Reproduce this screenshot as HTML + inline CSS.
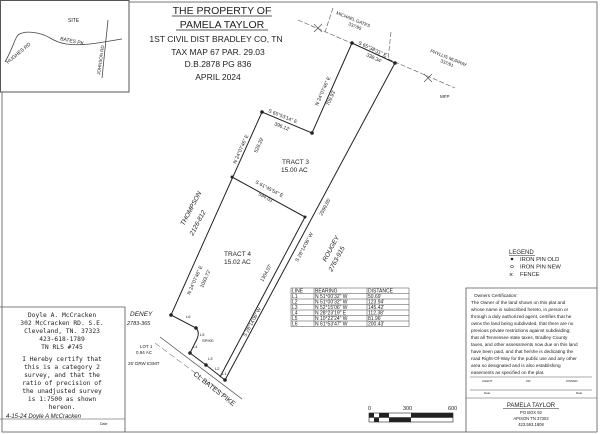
<!DOCTYPE html>
<html><head><meta charset="utf-8"><style>
html,body{margin:0;padding:0;background:#fff}
svg{display:block}
text{font-family:"Liberation Sans",sans-serif;fill:#222}
.h{font-family:"DejaVu Sans Mono","Liberation Mono",monospace}
</style></head><body>
<svg width="600" height="434" viewBox="0 0 600 434" xmlns="http://www.w3.org/2000/svg">
<rect x="0" y="0" width="600" height="434" fill="#fff"/>
<path d="M129 2 H597 V432 M2 92 V432 H597" fill="none" stroke="#777" stroke-width="1"/>
<rect x="0.5" y="0.5" width="128.5" height="91.5" fill="none" stroke="#555" stroke-width="1"/>
<path d="M5 62 C12 50,15 38,18 35 C25 30,40 32,50 38 C60 44,70 46,90 44 C105 42,115 40,122 39" fill="none" stroke="#444" stroke-width="0.8"/>
<path d="M108 20 L102 78" stroke="#444" stroke-width="0.8"/>
<text x="68" y="22" font-size="5">SITE</text>
<text x="60" y="40" font-size="5" transform="rotate(12 60 40)">BATES PK</text>
<text x="8" y="64" font-size="5" transform="rotate(-40 8 64)">HUGHES RD</text>
<text x="100" y="75" font-size="4.5" transform="rotate(-82 100 75)">JOHNSON RD</text>
<g text-anchor="middle">
<text x="222" y="14" font-size="10.5">THE  PROPERTY OF</text>
<line x1="172" y1="16" x2="272" y2="16" stroke="#222" stroke-width="0.8"/>
<text x="222" y="28" font-size="10.5">PAMELA TAYLOR</text>
<line x1="176" y1="30" x2="268" y2="30" stroke="#222" stroke-width="0.8"/>
<text x="216" y="42" font-size="8.5">1ST CIVIL DIST BRADLEY CO, TN</text>
<text x="218" y="55" font-size="8.5">TAX MAP 67 PAR. 29.03</text>
<text x="218" y="67" font-size="8.5">D.B.2878 PG 836</text>
<text x="218" y="80" font-size="8.5">APRIL 2024</text>
</g>
<line x1="298" y1="20" x2="455" y2="88" stroke="#555" stroke-width="0.6" stroke-dasharray="5,2"/>
<line x1="333" y1="8" x2="325" y2="32" stroke="#555" stroke-width="0.6" stroke-dasharray="5,2"/>
<line x1="391" y1="32" x2="388" y2="60" stroke="#555" stroke-width="0.6" stroke-dasharray="5,2"/>
<g stroke="#444" stroke-width="0.6"><path d="M314 24 L322 32 M322 24 L314 32"/><path d="M424 74 L432 82 M432 74 L424 82"/></g>
<text x="336" y="14" font-size="4.5" transform="rotate(22 336 14)">MICHAEL GATES</text>
<text x="348" y="25" font-size="4.5" transform="rotate(22 348 25)">337/95</text>
<text x="430" y="52" font-size="4.5" transform="rotate(22 430 52)">PHYLLIS MURRAY</text>
<text x="440" y="62" font-size="4.5" transform="rotate(22 440 62)">337/91</text>
<text x="440" y="98" font-size="4.5">MFP</text>
<g stroke="#222" stroke-width="1" fill="none">
<path d="M352 43 L395 63 L225 380"/>
<path d="M305 217 L220 377"/>
<path d="M352 43 L312 133 L262 112 L171 315 L196 328 Q200 332 197 339 L190 353 L206 365 L225 380"/>
<path d="M232 177 L305 217"/>
</g>
<line x1="160" y1="337" x2="242" y2="399" stroke="#444" stroke-width="0.7"/>
<line x1="155" y1="343" x2="225" y2="395" stroke="#444" stroke-width="0.5" stroke-dasharray="6,3"/>
<g fill="#222"><circle cx="352" cy="43" r="1.8"/><circle cx="395" cy="63" r="1.8"/><circle cx="312" cy="133" r="1.8"/><circle cx="262" cy="112" r="1.8"/><circle cx="171" cy="315" r="1.8"/><circle cx="196" cy="328" r="1.8"/><circle cx="190" cy="353" r="1.8"/><circle cx="206" cy="365" r="1.8"/><circle cx="225" cy="380" r="1.8"/><circle cx="232" cy="177" r="1.5"/><circle cx="305" cy="217" r="1.5"/></g>
<g font-size="5">
<text x="358" y="44" transform="rotate(25 358 44)">S 65°38'31" E</text>
<text x="366" y="56" transform="rotate(25 366 56)">338.34'</text>
<text x="318" y="106" transform="rotate(-66 318 106)">N 24°07'46" E</text>
<text x="329" y="106" transform="rotate(-66 329 106)">709.93'</text>
<text x="268" y="112" transform="rotate(22 268 112)">S 65°53'14" E</text>
<text x="274" y="125" transform="rotate(22 274 125)">396.12'</text>
<text x="236" y="164" transform="rotate(-66 236 164)">N 24°07'46" E</text>
<text x="257" y="153" transform="rotate(-66 257 153)">528.29'</text>
<text x="255" y="183" transform="rotate(28 255 183)">S 61°45'54" E</text>
<text x="258" y="195" transform="rotate(28 258 195)">594.03'</text>
<text x="190" y="295" transform="rotate(-66 190 295)">N 24°07'46" E</text>
<text x="203" y="288" transform="rotate(-66 203 288)">1083.72'</text>
<text x="246" y="337" transform="rotate(-62 246 337)">S 28°14'06" W</text>
<text x="263" y="282" transform="rotate(-62 263 282)">1304.07'</text>
<text x="298" y="262" transform="rotate(-62 298 262)">S 28°14'06" W</text>
<text x="322" y="216" transform="rotate(-62 322 216)">2599.85'</text>
<text x="282" y="164" font-size="6.5">TRACT  3</text>
<text x="281" y="172" font-size="6.5">15.00  AC</text>
<text x="224" y="256" font-size="6.5">TRACT  4</text>
<text x="224" y="264" font-size="6.5">15.02  AC</text>
<text x="186" y="318" font-size="4">L6</text>
<text x="200" y="336" font-size="4">L5</text>
<text x="193" y="348" font-size="4">L4</text>
<text x="208" y="360" font-size="4">L3</text>
<text x="215" y="370" font-size="4">L2</text>
<text x="222" y="375" font-size="4">L1</text>
<text x="202" y="342" font-size="4">SPIKE</text>
<text x="140" y="348" font-size="4.5">LOT 1</text>
<text x="136" y="354" font-size="4.5">0.94 AC</text>
<text x="128" y="365" font-size="4.5">25' DRW ESMT</text>
<text x="193" y="375" font-size="7" transform="rotate(38 193 375)">CL BATES PIKE</text>
</g>
<g font-size="6.5" font-style="italic">
<text x="184" y="226" transform="rotate(-62 184 226)">THOMPSON</text>
<text x="193" y="236" transform="rotate(-62 193 236)">2126-812</text>
<text x="326" y="262" transform="rotate(-62 326 262)">ROUGEY</text>
<text x="332" y="272" transform="rotate(-62 332 272)">2763-915</text>
<text x="130" y="316">DENEY</text>
<text x="127" y="325" font-size="5.5">2783-365</text>
</g>
<path d="M0 307 H125 V432" fill="none" stroke="#555" stroke-width="0.8"/>
<line x1="0" y1="419" x2="125" y2="419" stroke="#444" stroke-width="0.6"/>
<g class="h" font-size="6.3" text-anchor="middle">
<text x="62" y="317" class="h">Doyle A. McCracken</text>
<text x="62" y="325" class="h">302 McCracken RD. S.E.</text>
<text x="62" y="333" class="h">Cleveland, TN. 37323</text>
<text x="62" y="341" class="h">423-618-1789</text>
<text x="62" y="349" class="h">TN RLS #745</text>
<text x="62" y="361" class="h">I Hereby certify that</text>
<text x="62" y="369" class="h">this is a category 2</text>
<text x="62" y="377" class="h">survey, and that the</text>
<text x="62" y="385" class="h">ratio of precision of</text>
<text x="62" y="393" class="h">the unadjusted survey</text>
<text x="62" y="401" class="h">is 1:7500 as shown</text>
<text x="62" y="409" class="h">hereon.</text>
</g>
<text x="6" y="418" font-size="6" font-style="italic">4-15-24  Doyle A McCracken</text>
<text x="100" y="425" font-size="3.5">Date</text>
<g stroke="#444" stroke-width="0.5" fill="none">
<rect x="291" y="288" width="118" height="38.5"/>
<line x1="314" y1="288" x2="314" y2="326.5"/><line x1="367" y1="288" x2="367" y2="326.5"/>
<path d="M291 293.5H409M291 299H409M291 304.5H409M291 310H409M291 315.5H409M291 321H409"/>
</g>
<g font-size="5">
<text x="292" y="292.5">LINE</text><text x="315" y="292.5">BEARING</text><text x="368" y="292.5">DISTANCE</text>
<text x="292" y="298">L1</text><text x="315" y="298">N  51°00'32"  W</text><text x="368" y="298">50.69'</text>
<text x="292" y="303.5">L2</text><text x="315" y="303.5">N  51°00'32"  W</text><text x="368" y="303.5">123.94'</text>
<text x="292" y="309">L3</text><text x="315" y="309">N  52°15'06"  W</text><text x="368" y="309">145.42'</text>
<text x="292" y="314.5">L4</text><text x="315" y="314.5">N  28°23'19"  E</text><text x="368" y="314.5">112.38'</text>
<text x="292" y="320">L5</text><text x="315" y="320">N  10°22'24"  W</text><text x="368" y="320">81.96'</text>
<text x="292" y="325.5">L6</text><text x="315" y="325.5">N  61°53'47"  W</text><text x="368" y="325.5">200.43'</text>
</g>
<text x="509" y="254" font-size="6">LEGEND</text>
<line x1="509" y1="255.5" x2="535" y2="255.5" stroke="#222" stroke-width="0.5"/>
<circle cx="512" cy="259" r="1.3" fill="#222"/>
<circle cx="512" cy="266.5" r="1.4" fill="none" stroke="#222" stroke-width="0.5"/>
<text x="509" y="277" font-size="7">×</text>
<g font-size="5.8"><text x="520" y="261">IRON PIN OLD</text><text x="520" y="268.5">IRON PIN NEW</text><text x="520" y="276">FENCE</text></g>
<path d="M466 432 V288 H597" fill="none" stroke="#555" stroke-width="0.8"/>
<line x1="470" y1="377" x2="592" y2="377" stroke="#555" stroke-width="0.5"/>
<line x1="470" y1="390" x2="592" y2="390" stroke="#555" stroke-width="0.5"/>
<line x1="466" y1="398" x2="597" y2="398" stroke="#555" stroke-width="0.6"/>
<g font-size="4.7">
<text x="474" y="297">Owners Certification:</text>
<text x="471" y="304">  The Owner of the land shown on this plat and</text>
<text x="471" y="311">whose name is subscribed hereto, in person or</text>
<text x="471" y="318">through a duly authorized agent, certifies that he</text>
<text x="471" y="325">owns the land being subdivided, that there are no</text>
<text x="471" y="332">previous private restrictions against subdividing;</text>
<text x="471" y="339">that all Tennessee state taxes, Bradley County</text>
<text x="471" y="346">taxes, and other assessments now due on this land</text>
<text x="471" y="353">have been paid, and that he/she is dedicating the</text>
<text x="471" y="360">road Right-Of-Way for the public use and any other</text>
<text x="471" y="367">area so designated and is also establishing</text>
<text x="471" y="374">easements as specified on the plat.</text>
</g>
<g font-size="3">
<text x="482" y="382">AGENT</text><text x="526" y="382">OR</text><text x="566" y="382">OWNER</text>
<text x="484" y="394">Date</text><text x="576" y="394">Date</text>
</g>
<g text-anchor="middle">
<text x="531" y="407" font-size="6">PAMELA TAYLOR</text>
<line x1="503" y1="408.5" x2="559" y2="408.5" stroke="#222" stroke-width="0.5"/>
<text x="531" y="414" font-size="4.2">PO BOX 92</text>
<text x="531" y="420" font-size="4.2">APISON TN 37302</text>
<text x="531" y="426" font-size="4.2">423.593.1808</text>
</g>
<g font-size="5.5"><text x="368" y="410">0</text><text x="403" y="410">300</text><text x="448" y="410">600</text></g>
<rect x="369" y="413" width="84" height="9" fill="none" stroke="#222" stroke-width="0.6"/>
<line x1="369" y1="417.5" x2="453" y2="417.5" stroke="#222" stroke-width="0.5"/>
<g fill="#222">
<rect x="369" y="413" width="5" height="4.5"/><rect x="379" y="413" width="10" height="4.5"/>
<rect x="374" y="417.5" width="5" height="4.5"/><rect x="389" y="417.5" width="22" height="4.5"/>
<rect x="411" y="413" width="42" height="4.5"/>
</g>
</svg>
</body></html>
